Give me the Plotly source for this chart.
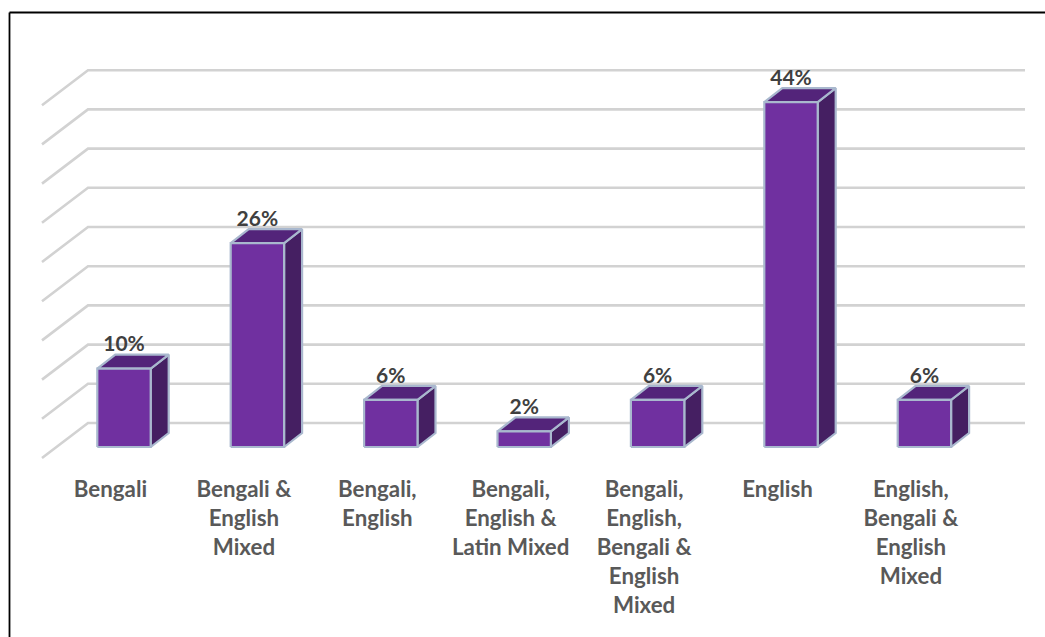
import plotly.graph_objects as go

categories = ["Bengali", "Bengali &<br>English<br>Mixed", "Bengali,<br>English",
              "Bengali,<br>English &<br>Latin Mixed", "Bengali,<br>English,<br>Bengali &<br>English<br>Mixed",
              "English", "English,<br>Bengali &<br>English<br>Mixed"]
values = [10, 26, 6, 2, 6, 44, 6]
grid_values = [0, 5, 10, 15, 20, 25, 30, 35, 40, 45]

# geometry of the pseudo-3D projection, in pixels of the 1045x637 page
STEP = 133.4
PX_PER_PCT = 7.84
X0 = 124.0          # centre of first bar's front face
Y0 = 423.0          # zero on the back wall
L, R, T, B = 30, 1035, 60, 470
def xi(px): return (px - X0) / STEP
def yv(px): return (Y0 - px) / PX_PER_PCT
dxu = lambda px: px / STEP
dyu = lambda px: px / PX_PER_PCT

FACE, SIDE, TOP, EDGE, GRID = "#7030A0", "#451F62", "#53247A", "#A9B8CE", "#D2D2D2"

fig = go.Figure()

# gridlines: floor-side oblique + back wall
for g in grid_values:
    fig.add_trace(go.Scatter(
        x=[xi(42), xi(88), xi(1025)],
        y=[g - dyu(35), g, g],
        mode="lines", line=dict(color=GRID, width=2.6), hoverinfo="skip", showlegend=False))

half = dxu(26.7)
dep_x, dep_y = dxu(18), dyu(14)
base = -dyu(24)
for i, v in enumerate(values):
    x0, x1 = i - half, i + half
    y0, y1 = base, base + v
    faces = [
        ([x1, x1 + dep_x, x1 + dep_x, x1, x1], [y0, y0 + dep_y, y1 + dep_y, y1, y0], SIDE),
        ([x0, x0 + dep_x, x1 + dep_x, x1, x0], [y1, y1 + dep_y, y1 + dep_y, y1, y1], TOP),
        ([x0, x1, x1, x0, x0], [y0, y0, y1, y1, y0], FACE),
    ]
    for xs, ys, c in faces:
        fig.add_trace(go.Scatter(x=xs, y=ys, mode="lines", fill="toself", fillcolor=c,
                                 line=dict(color=EDGE, width=2.2), hoverinfo="skip", showlegend=False))

fig.add_trace(go.Scatter(
    x=list(range(len(values))), y=[base + v + dep_y - dyu(2) for v in values],
    text=[f"{v}%" for v in values], mode="text", textposition="top center",
    textfont=dict(family="Lato", size=21, color="#404040", weight="bold"),
    cliponaxis=False, hoverinfo="skip", showlegend=False))

LEFT = (9.5 - L) / (R - L)
TOP_Y = (B - 12.5) / (B - T)
fig.update_layout(
    width=1045, height=637, margin=dict(l=L, r=1045 - R, t=T, b=637 - B),
    paper_bgcolor="white", plot_bgcolor="white", showlegend=False,
    xaxis=dict(range=[xi(L), xi(R)], tickmode="array",
               tickvals=[i - dxu(13.5) for i in range(len(categories))], ticktext=categories,
               tickangle=0, showgrid=False, zeroline=False, showline=False, ticks="",
               ticklabelstandoff=4,
               tickfont=dict(family="Lato", size=22.3, color="#595959", weight="bold")),
    yaxis=dict(range=[yv(B), yv(T)], showgrid=False, zeroline=False, showline=False,
               showticklabels=False, ticks=""),
    shapes=[
        dict(type="line", xref="paper", yref="paper", x0=LEFT, x1=(1046 - L) / (R - L),
             y0=TOP_Y, y1=TOP_Y, line=dict(color="black", width=1.8)),
        dict(type="line", xref="paper", yref="paper", x0=LEFT, x1=LEFT,
             y0=TOP_Y, y1=(B - 638) / (B - T), line=dict(color="black", width=1.8)),
    ],
)
fig.write_html("out.html", config={"displayModeBar": False},
               post_script="document.body.style.margin='0';")
